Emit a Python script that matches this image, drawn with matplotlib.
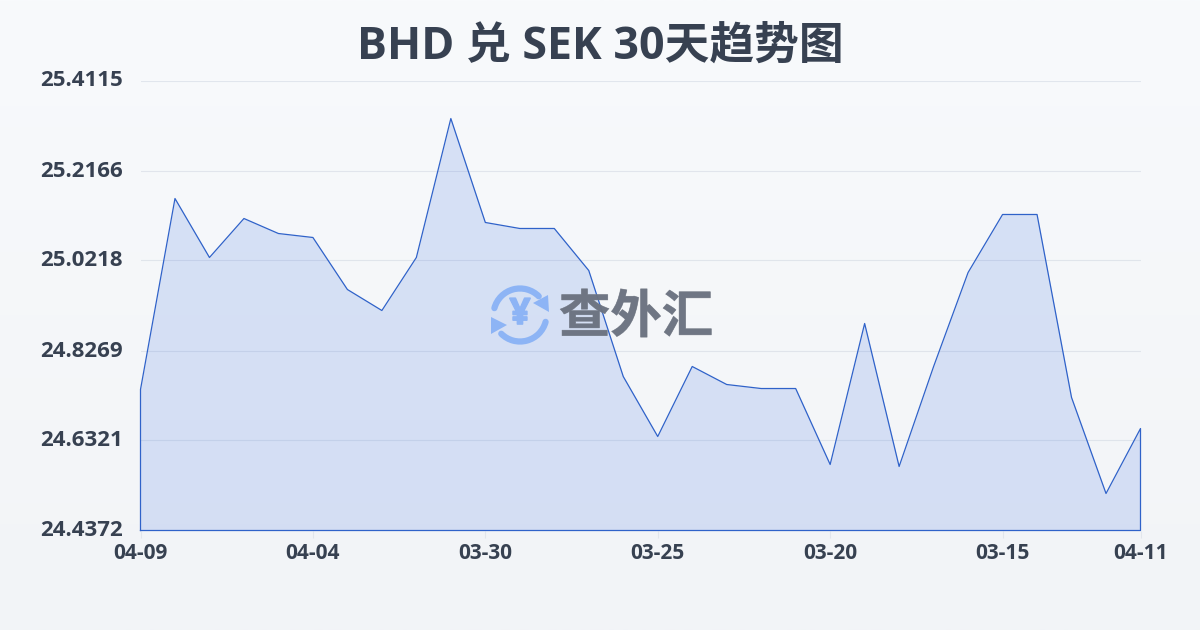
import numpy as np
import matplotlib
matplotlib.use("Agg")
from matplotlib import pyplot as plt
from matplotlib import patheffects
from matplotlib.patches import Arc, Polygon

plt.rcParams['font.family'] = ['Open Sans', 'Noto Sans CJK SC', 'DejaVu Sans']

title = "BHD 兑 SEK 30天趋势图"
watermark = "查外汇"

rates = [24.7425, 25.1560, 25.0283, 25.1127, 25.0802, 25.0716, 24.9590, 24.9135, 25.0283, 25.3292,
         25.1041, 25.0911, 25.0911, 25.0001, 24.7706, 24.6407, 24.7923, 24.7533, 24.7446, 24.7446,
         24.5801, 24.8854, 24.5758, 24.7923, 24.9958, 25.1214, 25.1214, 24.7252, 24.5173, 24.6580]
y_ticks = [24.4372, 24.6321, 24.8269, 25.0218, 25.2166, 25.4115]
x_ticks = [0, 5, 10, 15, 20, 25, 29]
x_labels = ["04-09", "04-04", "03-30", "03-25", "03-20", "03-15", "04-11"]

W, H = 1200, 630
text_col = "#374151"
line_col = "#2f62c9"

fig = plt.figure(figsize=(W / 100, H / 100), dpi=100)

# background gradient
bg = fig.add_axes([0, 0, 1, 1], zorder=0)
bg.imshow(np.linspace(0, 1, 256).reshape(-1, 1), cmap=matplotlib.colors.LinearSegmentedColormap.from_list("bg", ["#f8fafc", "#f2f4f7"]),
          aspect="auto", extent=[0, 1, 0, 1])
bg.axis("off")

ax = fig.add_axes([140.5 / W, 1 - 530.5 / H, 1000 / W, 450 / H], zorder=1)
ax.patch.set_alpha(0)
x = np.arange(len(rates))
ax.fill_between(x, rates, y_ticks[0], color="#3468e0", alpha=0.16, lw=0, zorder=2)
ax.plot(np.r_[0, x, 29, 0], np.r_[y_ticks[0], rates, y_ticks[0], y_ticks[0]], color=line_col, lw=0.9, zorder=3, clip_on=False)
ax.set_xlim(0, 29)
ax.set_ylim(y_ticks[0], y_ticks[-1])
ax.set_yticks(y_ticks)
ax.set_yticklabels(["%.4f" % v for v in y_ticks], fontsize=16, fontweight="bold", color=text_col)
ax.set_xticks(x_ticks)
ax.set_xticklabels(x_labels, fontsize=15, fontweight="bold", color=text_col)
ax.grid(axis="y", color="#c8d0dc", alpha=0.45, lw=0.8, zorder=1)
ax.tick_params(axis="y", length=0, pad=13)
ax.tick_params(axis="x", length=5, width=0.8, color="#e2e6ec", pad=4)
for s in ax.spines.values():
    s.set_visible(False)
for lab in ax.get_yticklabels():
    lab.set_transform(lab.get_transform() + matplotlib.transforms.ScaledTranslation(0, 2 / 100, fig.dpi_scale_trans))

fig.text(0.5, 1 - 47 / H, title, ha="center", va="center", fontsize=32.2, fontweight="bold", color=text_col)

# watermark, drawn in pixel coordinates (y axis runs down)
wm = fig.add_axes([0, 0, 1, 1], zorder=5)
wm.set_xlim(0, W)
wm.set_ylim(H, 0)
wm.axis("off")
logo = "#8db4f5"
wm.add_patch(Arc((520, 315), 53, 53, theta1=195, theta2=315, color=logo, lw=4.5, capstyle="round"))
wm.add_patch(Arc((520, 315), 53, 53, theta1=15, theta2=135, color=logo, lw=4.5, capstyle="round"))
wm.add_patch(Polygon([[548, 295], [549, 312], [533, 303]], color=logo, lw=0))
wm.add_patch(Polygon([[491, 317], [491, 334], [507, 325]], color=logo, lw=0))
wm.text(520, 315, "¥", ha="center", va="center", fontsize=26, fontweight="bold", color=logo,
        path_effects=[patheffects.withStroke(linewidth=1.2, foreground=logo)])
wm.text(636, 317, watermark, ha="center", va="center", fontsize=37, fontweight="bold", color="#6b7280", alpha=0.82,
        family=["Noto Sans CJK SC", "DejaVu Sans"],
        path_effects=[patheffects.withStroke(linewidth=0.5, foreground="#7d838e")])

fig.savefig("out.png", dpi=100)
